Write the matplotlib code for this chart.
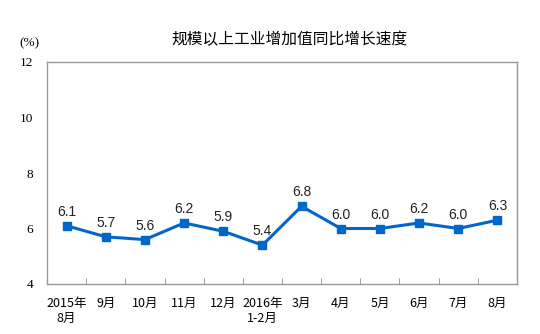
import matplotlib
matplotlib.use("Agg")
import matplotlib.pyplot as plt
import numpy as np

plt.rcParams['font.family'] = ['Noto Sans CJK SC', 'DejaVu Sans']

categories = ["2015年\n8月", "9月", "10月", "11月", "12月", "2016年\n1-2月",
              "3月", "4月", "5月", "6月", "7月", "8月"]
values = [6.1, 5.7, 5.6, 6.2, 5.9, 5.4, 6.8, 6.0, 6.0, 6.2, 6.0, 6.3]
labels = ["6.1", "5.7", "5.6", "6.2", "5.9", "5.4", "6.8", "6.0", "6.0", "6.2", "6.0", "6.3"]
yticks = [4, 6, 8, 10, 12]
title = "规模以上工业增加值同比增长速度"

fig = plt.figure(figsize=(5.4, 3.34), dpi=100)
ax = fig.add_axes([47/540, 1-284/334, 470/540, 222/334])

x = np.arange(len(values))
color = "#0066CC"
ax.plot(x, values, color=color, lw=2.2, marker="s", ms=5.5, zorder=3)
for xi, v, lab in zip(x, values, labels):
    ax.annotate(lab, (xi, v), xytext=(0, 5), textcoords="offset points",
                ha="center", va="bottom", fontsize=10, color="#222222",
                family=["Liberation Sans"])

ax.set_xlim(-0.5, len(values) - 0.5)
ax.set_ylim(4, 12)
ax.set_yticks(yticks)
ax.set_yticklabels([str(t) for t in yticks], family=["Liberation Serif"], fontsize=9.5)
ax.tick_params(axis="y", length=0, pad=10)

ax.set_xticks(x)
ax.set_xticklabels(categories, fontsize=9, linespacing=1.25)
ax.tick_params(axis="x", which="major", length=0, pad=9)
ax.set_xticks(np.arange(0.5, len(values) - 0.5, 1), minor=True)
ax.tick_params(axis="x", which="minor", direction="in", length=4, color="#888888")

for s in ax.spines.values():
    s.set_color("#999999")
    s.set_linewidth(1)

fig.text(290/540, 1-40/334, title, ha="center", va="center", fontsize=11.3)
fig.text(29/540, 1-43/334, "(%)", ha="center", va="center", fontsize=9.5,
         family=["Liberation Serif"])

fig.savefig("out.png", dpi=100)
